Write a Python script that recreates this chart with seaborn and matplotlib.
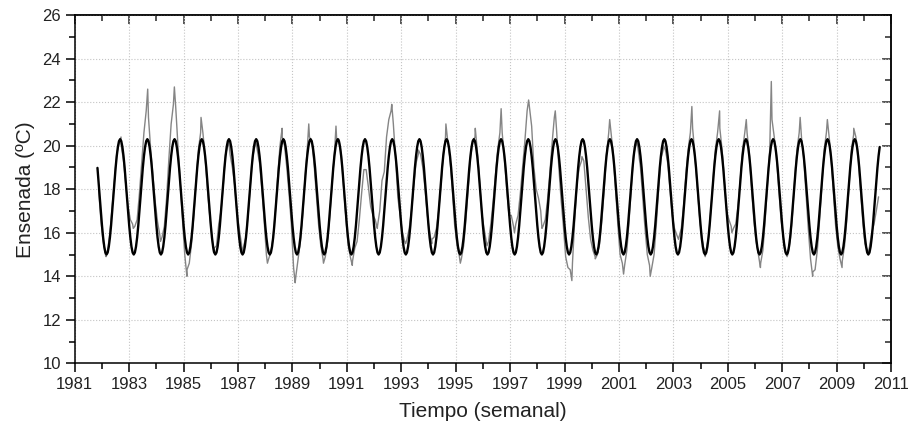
import matplotlib
matplotlib.use("Agg")
import matplotlib.pyplot as plt
import numpy as np
import pandas as pd
import seaborn as sns

# Weekly SST at Ensenada (Nov 1981 onwards)
temp_1981_1989 = [
    18.0, 16.6,
    15.6, 15.0, 15.2, 16.0, 17.2, 18.4, 19.6, 20.1, 20.0, 19.3, 18.2, 17.2,
    16.6, 16.4, 16.3, 16.6, 17.8, 19.2, 20.6, 21.6, 21.3, 19.8, 18.6, 17.4,
    16.5, 15.9, 15.8, 16.3, 17.6, 19.4, 21.0, 21.9, 21.8, 20.0, 18.3, 16.6,
    15.0, 14.3, 14.6, 15.5, 16.8, 18.4, 19.8, 20.6, 20.6, 19.5, 18.0, 16.8,
    15.8, 15.3, 15.4, 16.4, 17.0, 18.2, 19.6, 20.0, 19.6, 19.0, 18.2, 17.0,
    16.2, 15.5, 15.4, 15.8, 16.9, 18.3, 19.5, 20.0, 19.8, 19.2, 18.0, 16.6,
    15.0, 14.8, 15.1, 15.8, 17.0, 18.6, 20.0, 20.4, 20.0, 19.0, 17.8, 16.4,
    14.4, 14.0, 14.8, 15.6, 16.8, 18.4, 19.8, 20.4, 20.2, 19.2, 17.8, 16.4,
]
temp_1990_1999 = [
    15.4, 14.8, 14.9, 15.6, 16.8, 18.3, 19.6, 20.3, 20.3, 19.6, 18.2, 16.8,
    15.5, 14.9, 14.7, 15.3, 15.6, 16.6, 17.8, 18.9, 18.9, 18.1, 17.2, 16.8,
    16.6, 16.3, 17.0, 18.4, 18.8, 20.4, 21.2, 21.6, 21.0, 19.4, 17.6, 16.8,
    16.0, 15.6, 15.7, 16.2, 17.0, 18.2, 19.2, 19.6, 19.6, 19.0, 18.0, 16.8,
    16.0, 15.7, 15.8, 16.2, 17.0, 18.2, 19.6, 20.4, 20.2, 19.4, 18.0, 16.4,
    15.5, 15.0, 14.8, 15.4, 16.6, 18.0, 19.4, 20.2, 20.4, 19.8, 18.4, 16.9,
    16.2, 15.6, 15.6, 16.4, 17.4, 18.6, 19.8, 20.6, 20.6, 19.4, 18.0, 16.8,
    16.8, 16.3, 16.4, 16.8, 17.8, 19.0, 20.2, 21.6, 21.8, 20.9, 19.0, 18.0,
    17.6, 17.0, 16.3, 16.6, 17.5, 18.7, 20.1, 21.3, 20.7, 19.0, 17.5, 16.3,
    14.9, 14.4, 14.3, 14.6, 16.6, 18.3, 19.0, 19.3, 19.3, 18.0, 16.7, 15.7,
]
temp_2000_2010 = [
    15.2, 14.9, 15.0, 15.5, 16.6, 18.0, 19.6, 20.6, 20.6, 19.6, 18.0, 16.4,
    15.0, 14.6, 14.5, 15.2, 16.6, 18.2, 19.6, 20.0, 19.8, 19.0, 17.6, 16.2,
    15.0, 14.5, 14.4, 15.0, 16.4, 18.0, 19.4, 19.8, 19.8, 19.2, 18.0, 16.8,
    16.2, 15.9, 15.8, 16.2, 17.2, 18.6, 19.8, 20.6, 20.8, 19.6, 18.2, 16.8,
    15.8, 15.2, 15.2, 15.8, 17.0, 18.4, 19.8, 20.6, 20.8, 19.8, 18.4, 17.0,
    16.6, 16.3, 16.2, 16.4, 17.2, 18.4, 19.8, 20.6, 20.6, 19.6, 18.0, 16.6,
    15.6, 15.0, 14.6, 15.2, 16.6, 18.2, 19.8, 21.2, 20.4, 19.4, 18.0, 16.6,
    15.8, 15.1, 15.0, 15.6, 16.8, 18.4, 19.8, 20.6, 20.4, 19.4, 17.8, 16.2,
    14.8, 14.2, 14.3, 15.2, 16.6, 18.2, 19.8, 20.6, 20.6, 19.6, 18.0, 16.4,
    15.4, 14.8, 14.7, 15.4, 16.6, 18.2, 19.8, 20.5, 20.4, 19.6, 18.0, 16.6,
    15.5, 15.2, 15.35, 16.0, 16.4, 17.0, 17.65,
]

# short weekly extremes (summer spikes and winter lows)
peak_times = [1982.70, 1983.68, 1984.66, 1985.64, 1986.65, 1987.65, 1988.62, 1989.60,
              1990.60, 1992.65, 1993.63, 1994.64, 1995.72, 1996.67, 1997.68, 1998.66,
              1999.64, 2000.66, 2001.66, 2002.64, 2003.68, 2004.70, 2005.68, 2006.60,
              2007.66, 2008.66, 2009.63]
peak_temps = [20.4, 22.6, 22.7, 21.3, 20.3, 20.2, 20.8, 21.0,
              20.9, 21.9, 19.8, 21.0, 20.8, 21.7, 22.1, 21.6,
              19.5, 21.2, 20.2, 20.0, 21.8, 21.6, 21.2, 22.95,
              21.3, 21.2, 20.8]
low_times = [1982.15, 1983.15, 1984.15, 1985.12, 1986.10, 1987.14, 1988.08, 1989.10,
             1990.14, 1991.20, 1992.12, 1993.16, 1994.12, 1995.17, 1996.15, 1997.16,
             1998.17, 1999.27, 2000.13, 2001.17, 2002.15, 2003.19, 2004.17, 2005.15,
             2006.20, 2007.18, 2008.12, 2009.20, 2010.15]
low_temps = [14.9, 16.2, 15.6, 14.0, 15.1, 15.1, 14.6, 13.7,
             14.6, 14.5, 16.2, 15.5, 15.5, 14.6, 15.4, 16.0,
             16.2, 13.8, 14.8, 14.1, 14.0, 15.7, 14.9, 16.0,
             14.4, 14.9, 14.0, 14.4, 15.0]

# fitted seasonal cycle, half-month steps from 1 Jan
fit_cycle = [16.33, 15.78, 15.36, 15.09, 15.00, 15.09, 15.36, 15.78,
             16.33, 16.96, 17.65, 18.34, 18.98, 19.52, 19.94, 20.21,
             20.30, 20.21, 19.94, 19.52, 18.98, 18.34, 17.65, 16.96]

monthly = temp_1981_1989 + temp_1990_1999 + temp_2000_2010
month_time = 1981 + 10.5 / 12 + np.arange(len(monthly)) / 12
obs = pd.concat([
    pd.DataFrame({"Tiempo": month_time, "Temp": monthly}),
    pd.DataFrame({"Tiempo": peak_times, "Temp": peak_temps}),
    pd.DataFrame({"Tiempo": low_times, "Temp": low_temps}),
]).sort_values("Tiempo")

steps = np.arange(1981 * 24 + 20, 2010 * 24 + 15)
fit = pd.DataFrame({"Tiempo": steps / 24, "Temp": [fit_cycle[s % 24] for s in steps]})

sns.set_style("ticks")
plt.rcParams["font.family"] = ["Liberation Sans", "DejaVu Sans"]

fig = plt.figure(figsize=(9.12, 4.32), dpi=100)
ax = fig.add_axes([0.082, 0.159, 0.895, 0.806])

sns.lineplot(data=obs, x="Tiempo", y="Temp", color="#858585", linewidth=1.0,
             estimator=None, sort=False, ax=ax)
sns.lineplot(data=fit, x="Tiempo", y="Temp", color="black", linewidth=1.7,
             estimator=None, sort=False, ax=ax)

ax.set_xlim(1981, 2011)
ax.set_ylim(10, 26)
xmaj = np.arange(1981, 2012, 2)
xmin = np.arange(1981, 2012, 1)
ymaj = np.arange(10, 27, 2)
ymin = np.arange(10, 27, 1)
ax.set_xticks(xmaj)
ax.set_xticks(xmin, minor=True)
ax.set_yticks(ymaj)
ax.set_yticks(ymin, minor=True)
ax.grid(True, which="major", linestyle=":", color="#c4c4c4", linewidth=0.8)

for side in ax.spines.values():
    side.set_color("black")
    side.set_linewidth(1.1)
ax.tick_params(which="both", direction="out", color="black", width=1.1, labelsize=12,
               labelcolor="#222222")
ax.tick_params(which="major", length=6.5)
ax.tick_params(which="minor", length=4)

top = ax.secondary_xaxis("top")
top.set_xticks(xmaj)
top.set_xticks(xmin, minor=True)
top.tick_params(which="both", direction="in", width=1.1, labeltop=False)
top.tick_params(which="major", length=6.5)
top.tick_params(which="minor", length=4)
top.spines["top"].set_linewidth(1.1)

right = ax.secondary_yaxis("right")
right.set_yticks(ymaj)
right.set_yticks(ymin, minor=True)
right.tick_params(which="both", direction="in", width=1.1, labelright=False)
right.tick_params(which="major", length=6.5)
right.tick_params(which="minor", length=4)
right.spines["right"].set_linewidth(1.1)

ax.set_xlabel("Tiempo (semanal)", fontsize=15, color="#222222", labelpad=7)
ax.set_ylabel("Ensenada (ºC)", fontsize=15, color="#222222", labelpad=5)

fig.savefig("out.png", dpi=100)
